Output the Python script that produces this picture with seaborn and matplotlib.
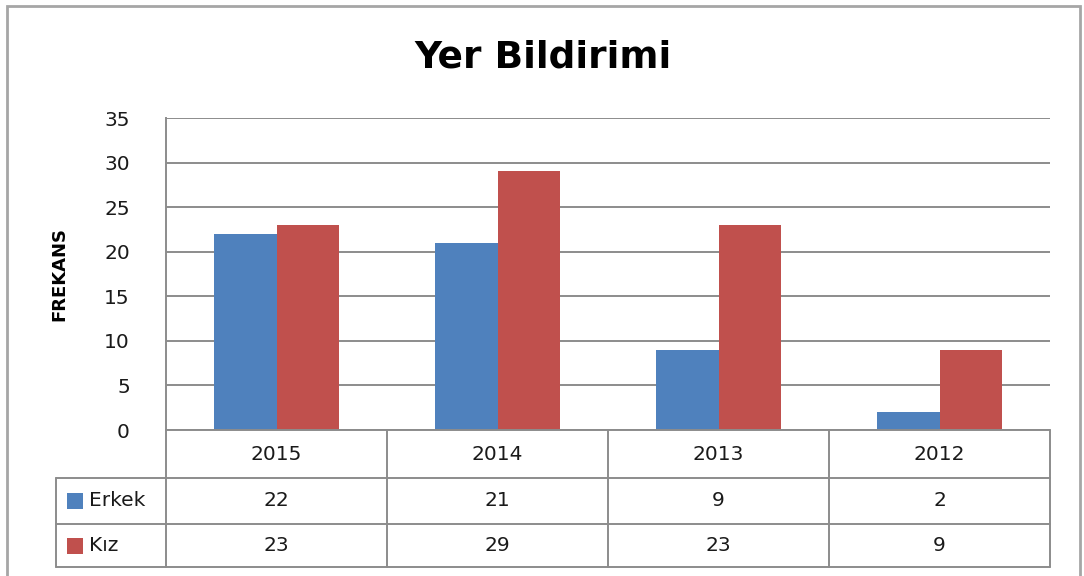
import matplotlib
matplotlib.use("Agg")
import matplotlib.pyplot as plt
from matplotlib.lines import Line2D
from matplotlib.patches import Rectangle
import seaborn as sns
import pandas as pd

# Chart data
years = ["2015", "2014", "2013", "2012"]
series_names = ["Erkek", "Kız"]
erkek = [22, 21, 9, 2]
kiz = [23, 29, 23, 9]
y_ticks = [0, 5, 10, 15, 20, 25, 30, 35]

colors = ["#4F81BD", "#C0504D"]
grid_col = "#8C8C8C"
text_col = "#1A1A1A"

df = pd.DataFrame({
    "Yıl": years * 2,
    "Cinsiyet": [series_names[0]] * len(years) + [series_names[1]] * len(years),
    "Frekans": erkek + kiz,
})

sns.set_theme(style="white")
plt.rcParams["font.family"] = ["DejaVu Sans"]

W, H = 1084, 576
fig = plt.figure(figsize=(W / 100, H / 100), dpi=100)

def fx(px):
    return px / W

def fy(py):
    return 1 - py / H

# Outer chart frame
fig.patches.append(Rectangle((fx(7), fy(590)), fx(1080) - fx(7), fy(6) - fy(590),
                             transform=fig.transFigure, fill=False,
                             edgecolor="#A6A6A6", linewidth=2, zorder=0))

ax = fig.add_axes([fx(166), fy(430), fx(1050) - fx(166), fy(118) - fy(430)])
sns.barplot(data=df, x="Yıl", y="Frekans", hue="Cinsiyet", order=years,
            hue_order=series_names, palette=colors, width=0.566, gap=0,
            saturation=1, legend=False, ax=ax, zorder=3, linewidth=0,
            edgecolor="none")
ax.set_xlim(-0.5, len(years) - 0.5)
ax.set_ylim(0, 35)
ax.set_yticks(y_ticks)
ax.set_yticklabels([str(t) for t in y_ticks], fontsize=14.5, color=text_col)
ax.tick_params(axis="y", length=0, pad=26)
ax.set_xticks([])
ax.set_xlabel("")
ax.set_ylabel("FREKANS", fontsize=13, fontweight="bold", color="black", labelpad=26)
ax.yaxis.grid(True, color=grid_col, linewidth=1.4, zorder=0)
ax.set_axisbelow(True)
for side in ["top", "right", "bottom"]:
    ax.spines[side].set_visible(False)
ax.spines["left"].set_color(grid_col)
ax.spines["left"].set_linewidth(1.4)

fig.text(fx(543), fy(57), "Yer Bildirimi", ha="center", va="center",
         fontsize=27, fontweight="bold", color="black")

# Data table beneath the axis, columns aligned with the categories
def data_to_figx(x):
    disp = ax.transData.transform((x, 0))
    return fig.transFigure.inverted().transform(disp)[0]

bounds = [data_to_figx(i - 0.5) for i in range(len(years) + 1)]
centers = [data_to_figx(i) for i in range(len(years))]
row_top, row1, row2, row_bot = fy(430), fy(478), fy(524), fy(567)
leg_left = fx(56)

def hline(x0, x1, y):
    fig.add_artist(Line2D([x0, x1], [y, y], transform=fig.transFigure,
                          color=grid_col, linewidth=1.4))

def vline(x, y0, y1):
    fig.add_artist(Line2D([x, x], [y0, y1], transform=fig.transFigure,
                          color=grid_col, linewidth=1.4))

hline(bounds[0], bounds[-1], row_top)
for yy in (row1, row2, row_bot):
    hline(leg_left, bounds[-1], yy)
for b in bounds:
    vline(b, row_top, row_bot)
vline(leg_left, row1, row_bot)

cell_fs = 14.5
for c, yr in zip(centers, years):
    fig.text(c, (row_top + row1) / 2, yr, ha="center", va="center",
             fontsize=cell_fs, color=text_col)
for row_vals, (ya, yb) in zip([erkek, kiz], [(row1, row2), (row2, row_bot)]):
    for c, v in zip(centers, row_vals):
        fig.text(c, (ya + yb) / 2, str(v), ha="center", va="center",
                 fontsize=cell_fs, color=text_col)

# Legend keys inside the table's first column
for name, col, (ya, yb) in zip(series_names, colors, [(row1, row2), (row2, row_bot)]):
    ym = (ya + yb) / 2
    sq = 16
    fig.patches.append(Rectangle((fx(67), ym - (sq / 2) / H), sq / W, sq / H,
                                 transform=fig.transFigure, facecolor=col,
                                 edgecolor="none"))
    fig.text(fx(89), ym, name, ha="left", va="center", fontsize=cell_fs,
             color=text_col)

fig.savefig("out.png", dpi=100, facecolor="white")
